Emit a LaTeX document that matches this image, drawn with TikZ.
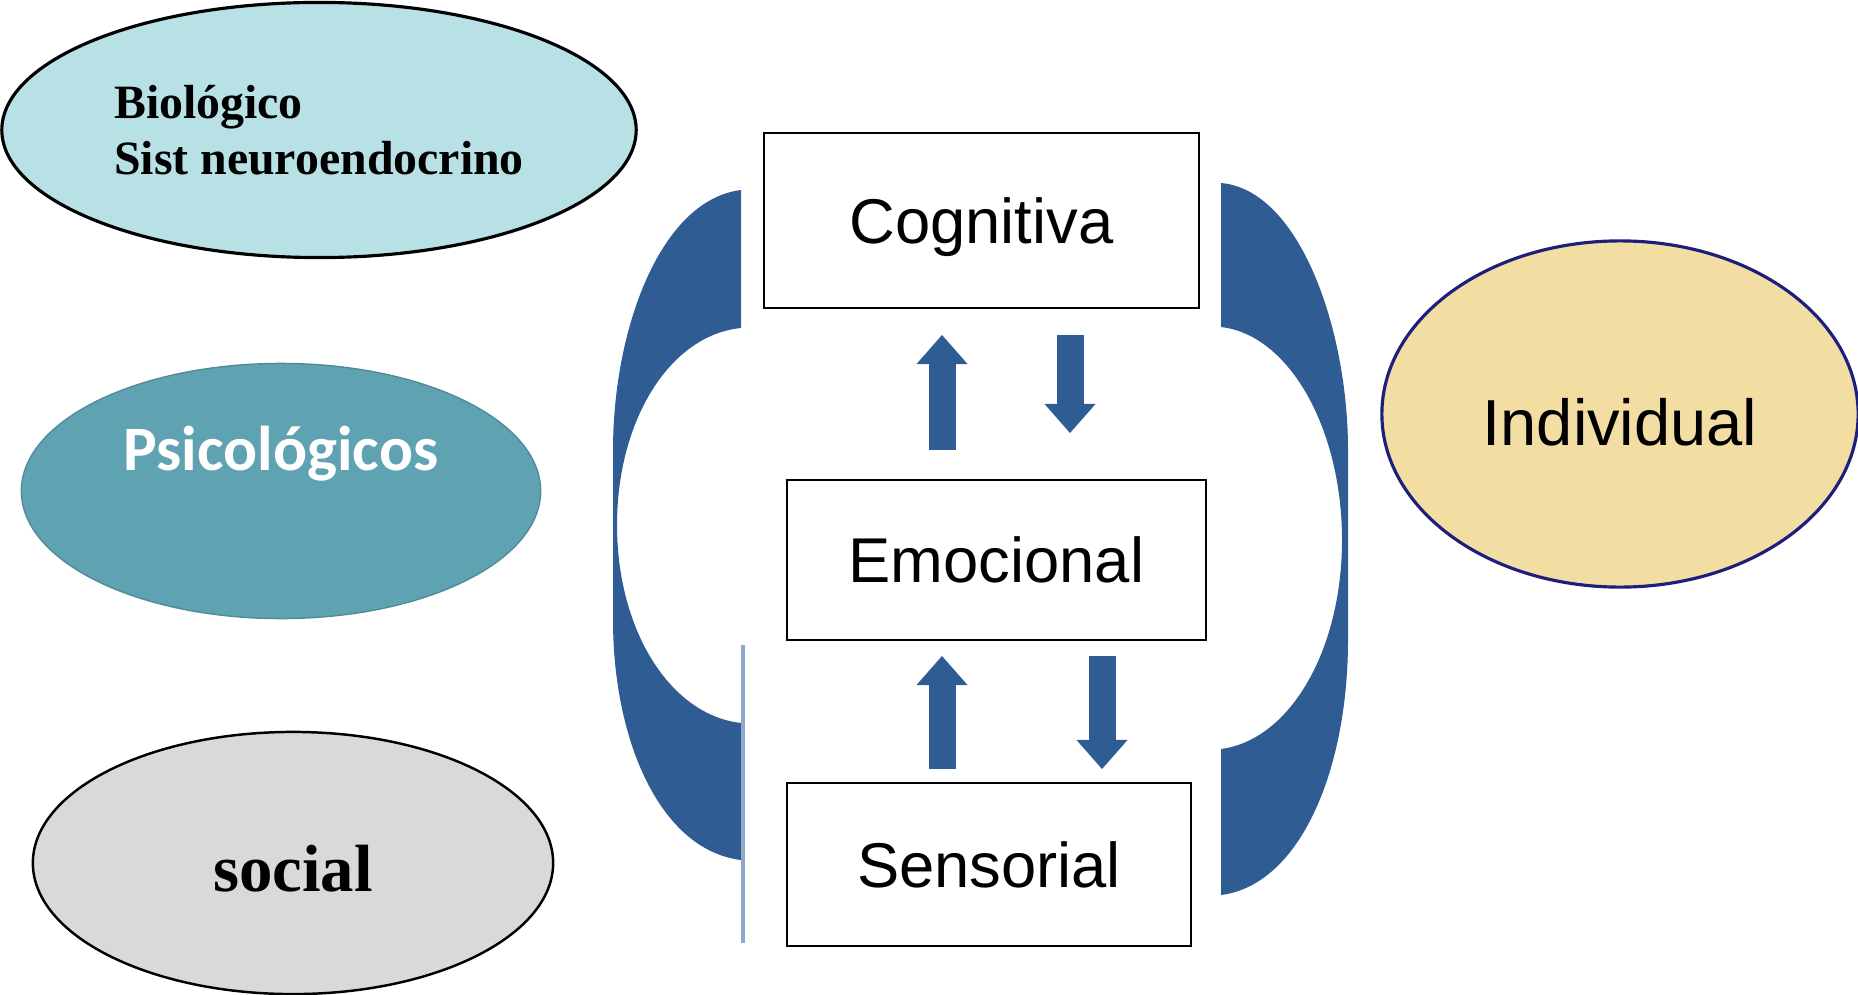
\documentclass[tikz,border=0pt]{standalone}
\usepackage{fontspec}
\setmainfont{Liberation Sans}
\newfontfamily\timesbf{Liberation Serif}
\newfontfamily\calibri{Carlito}
\usepackage{xcolor}
\usetikzlibrary{shapes.geometric, positioning, arrows.meta}
\definecolor{bracketblue}{RGB}{46,92,147}
\definecolor{thinblue}{RGB}{143,169,204}
\definecolor{biocyan}{RGB}{184,225,229}
\definecolor{psiteal}{RGB}{95,163,179}
\definecolor{socgray}{RGB}{217,217,217}
\definecolor{indtan}{RGB}{242,221,162}
\definecolor{indnavy}{RGB}{30,30,125}
\tikzset{
  levelbox/.style={draw, line width=0.7pt, inner sep=0pt, text depth=0pt, font=\fontsize{18}{22}\selectfont},
  blockarrow/.style={draw=bracketblue, line width=0.27cm, -{Triangle[width=0.51cm, length=0.29cm, line width=0pt]}}
}

\begin{document}
\begin{tikzpicture}[x=0.01cm, y=-0.01cm]
     \useasboundingbox (0,0) rectangle (1858,994);
     % the three spheres on the left
     \node[ellipse, draw, line width=0.9pt, fill=biocyan, minimum width=6.34cm, minimum height=2.55cm, align=left, font=\timesbf\bfseries\fontsize{13.6}{16}\selectfont] (bio) at (319,130) {Biológico\\Sist neuroendocrino};
     \node[ellipse, draw=psiteal!85!black, line width=0.4pt, fill=psiteal, minimum width=5.19cm, minimum height=2.55cm] (psi) at (281,491) {};
     \node[text=white, font=\calibri\bfseries\fontsize{18}{20}\selectfont] (psilbl) at ([yshift=0.37cm]psi.center) {Psicológicos};
     \node[ellipse, draw, line width=0.7pt, fill=socgray, minimum width=5.2cm, minimum height=2.62cm] (soc) at (293,863) {};
     \node[font=\timesbf\bfseries\fontsize{19}{22}\selectfont] (soclbl) at ([yshift=-0.06cm]soc.center) {social};
     \node[ellipse, draw=indnavy, line width=0.9pt, fill=indtan, minimum width=4.76cm, minimum height=3.46cm] (ind) at (1620,414) {};
     \node[font=\fontsize{18.5}{22}\selectfont] (indlbl) at ([yshift=-0.08cm]ind.center) {Individual};
     %
     \fill[bracketblue] (741,190) .. controls (660,200) and (613,330) .. (613,450) -- (613,620) .. controls (613,740) and (660,850) .. (741,860) -- (741,723) .. controls (670,715) and (617,630) .. (617,525) .. controls (617,420) and (670,335) .. (741,328) -- cycle;
     \fill[bracketblue] (1221,183) .. controls (1300,190) and (1348,330) .. (1348,450) -- (1348,640) .. controls (1348,770) and (1300,885) .. (1221,895) -- (1221,749) .. controls (1290,740) and (1342,650) .. (1342,540) .. controls (1342,430) and (1290,335) .. (1221,327) -- cycle;
     \draw[thinblue, line width=0.9pt] (743,645) -- (743,943);
     %
     \node[levelbox, minimum width=4.35cm, minimum height=1.75cm] (cog) at (981.5,220.5) {Cognitiva};
     \node[levelbox, minimum width=4.19cm, minimum height=1.60cm] (emo) at (996.5,560) {Emocional};
     \node[levelbox, minimum width=4.04cm, minimum height=1.63cm] (sen) at (989,864.5) {Sensorial};
     %
     \coordinate (up1a) at (942,450); \coordinate (up1b) at (942,335);
     \coordinate (dn1a) at (1070,335); \coordinate (dn1b) at (1070,433);
     \coordinate (up2a) at (942,769); \coordinate (up2b) at (942,656);
     \coordinate (dn2a) at (1102,656); \coordinate (dn2b) at (1102,769);
     \draw[blockarrow] (up1a) -- (up1b);
     \draw[blockarrow] (dn1a) -- (dn1b);
     \draw[blockarrow] (up2a) -- (up2b);
     \draw[blockarrow] (dn2a) -- (dn2b);
   \end{tikzpicture}
\end{document}
